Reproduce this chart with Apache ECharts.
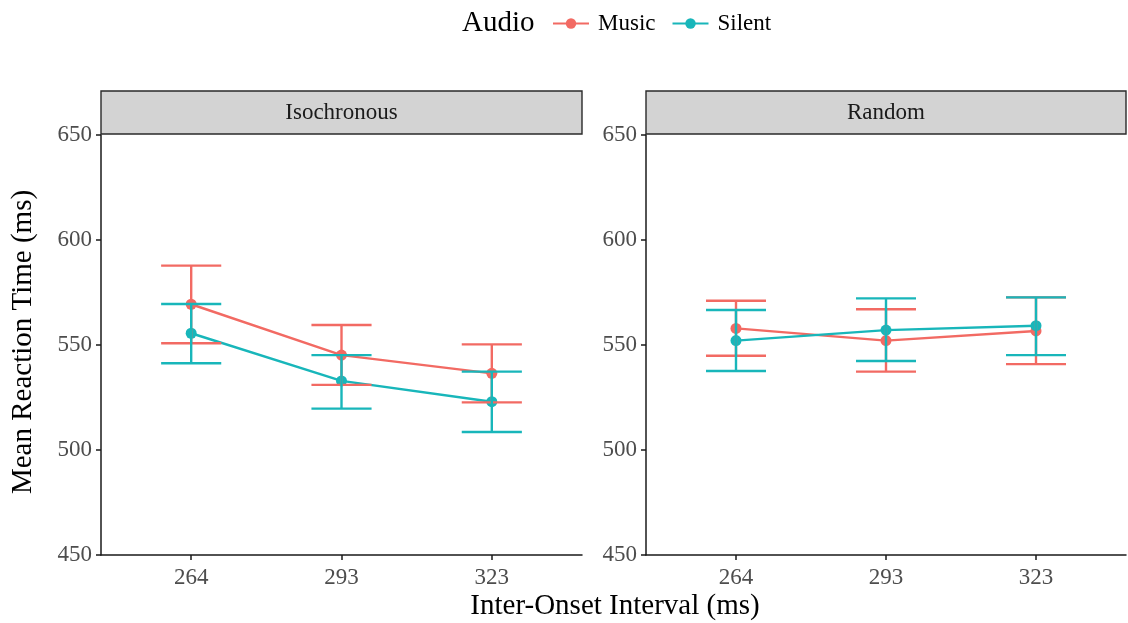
<!DOCTYPE html>
<html>
<head>
<meta charset="utf-8">
<title>Mean Reaction Time by Inter-Onset Interval</title>
<script src="https://cdn.jsdelivr.net/npm/echarts@6/dist/echarts.min.js"></script>
<style>
  html, body { margin: 0; padding: 0; background: #ffffff; }
  #chart { width: 1128px; height: 623px; }
</style>
</head>
<body>
<div id="chart"></div>
<script>
// Inter-onset intervals (ms) on the x axis
const iois = ['264', '293', '323'];
const panels = ['Isochronous', 'Random'];
const yTicks = [450, 500, 550, 600, 650];

// Isochronous condition: mean reaction time and error-bar limits
const isoMusicMean  = [569.4, 545.2, 536.5];
const isoMusicLow   = [550.8, 531.0, 522.7];
const isoMusicHigh  = [587.8, 559.5, 550.3];
const isoSilentMean = [555.6, 532.9, 523.0];
const isoSilentLow  = [541.3, 519.7, 508.6];
const isoSilentHigh = [569.5, 545.2, 537.3];

// Random condition
const rndMusicMean  = [557.9, 552.1, 556.7];
const rndMusicLow   = [544.9, 537.3, 540.9];
const rndMusicHigh  = [571.1, 567.0, 572.7];
const rndSilentMean = [552.1, 557.1, 559.2];
const rndSilentLow  = [537.6, 542.4, 545.2];
const rndSilentHigh = [566.7, 572.2, 572.7];

const MUSIC = '#F26A63';
const SILENT = '#18B6BA';
const FONT = 'Liberation Serif';
const AXIS = '#1a1a1a';

const chart = echarts.init(document.getElementById('chart'), null, { renderer: 'canvas' });

const panelData = [
  { music: [isoMusicMean, isoMusicLow, isoMusicHigh], silent: [isoSilentMean, isoSilentLow, isoSilentHigh] },
  { music: [rndMusicMean, rndMusicLow, rndMusicHigh], silent: [rndSilentMean, rndSilentLow, rndSilentHigh] }
];

const gridBoxes = [
  { left: 101, top: 135, width: 481, height: 420 },
  { left: 646, top: 135, width: 480, height: 420 }
];

const tickValues = iois.map((_, i) => i + 1);

const xAxes = gridBoxes.map((g, i) => ({
  type: 'value',
  gridIndex: i,
  min: 0.4,
  max: 3.6,
  axisLine: { show: true, lineStyle: { color: AXIS, width: 1.5 } },
  axisTick: { show: true, length: 5, customValues: tickValues, lineStyle: { color: AXIS, width: 1.5 } },
  axisLabel: {
    customValues: tickValues,
    formatter: v => iois[Math.round(v) - 1],
    fontFamily: FONT, fontSize: 23, color: '#4D4D4D', margin: 11
  },
  splitLine: { show: false }
}));

const yAxes = gridBoxes.map((g, i) => ({
  type: 'value',
  gridIndex: i,
  min: yTicks[0],
  max: yTicks[yTicks.length - 1],
  interval: 50,
  axisLine: { show: true, lineStyle: { color: AXIS, width: 1.5 } },
  axisTick: { show: true, length: 5, lineStyle: { color: AXIS, width: 1.5 } },
  axisLabel: { fontFamily: FONT, fontSize: 23, color: '#4D4D4D', margin: 9 },
  splitLine: { show: false }
}));

function lineSeries(name, color, mean, panel) {
  return {
    name: name,
    type: 'line',
    xAxisIndex: panel,
    yAxisIndex: panel,
    data: mean.map((v, i) => [i + 1, v]),
    symbol: 'circle',
    symbolSize: 11,
    lineStyle: { color: color, width: 2.4 },
    itemStyle: { color: color },
    z: 2,
    silent: true
  };
}

function errorSeries(name, color, low, high, panel) {
  return {
    name: name,
    type: 'custom',
    xAxisIndex: panel,
    yAxisIndex: panel,
    data: low.map((v, i) => [i + 1, v, high[i]]),
    z: 3,
    silent: true,
    renderItem: function (params, api) {
      const x = api.value(0);
      const lo = api.coord([x, api.value(1)]);
      const hi = api.coord([x, api.value(2)]);
      const capL = api.coord([x - 0.2, api.value(1)])[0];
      const capR = api.coord([x + 0.2, api.value(1)])[0];
      const style = { stroke: color, lineWidth: 2.4 };
      return {
        type: 'group',
        children: [
          { type: 'line', shape: { x1: lo[0], y1: lo[1], x2: hi[0], y2: hi[1] }, style: style },
          { type: 'line', shape: { x1: capL, y1: lo[1], x2: capR, y2: lo[1] }, style: style },
          { type: 'line', shape: { x1: capL, y1: hi[1], x2: capR, y2: hi[1] }, style: style }
        ]
      };
    }
  };
}

const series = [];
panelData.forEach((p, i) => {
  series.push(lineSeries('Music', MUSIC, p.music[0], i));
  series.push(lineSeries('Silent', SILENT, p.silent[0], i));
});
panelData.forEach((p, i) => {
  series.push(errorSeries('Music', MUSIC, p.music[1], p.music[2], i));
  series.push(errorSeries('Silent', SILENT, p.silent[1], p.silent[2], i));
});

// Facet strips above each panel
const stripGraphics = [];
gridBoxes.forEach((g, i) => {
  stripGraphics.push({
    type: 'rect',
    shape: { x: g.left, y: 91, width: g.width, height: 43 },
    style: { fill: '#D3D3D3', stroke: '#2a2a2a', lineWidth: 1.4 },
    silent: true
  });
  stripGraphics.push({
    type: 'text',
    x: g.left + g.width / 2,
    y: 113,
    style: {
      text: panels[i], font: '23px "' + FONT + '"', fill: '#1A1A1A',
      textAlign: 'center', textVerticalAlign: 'middle'
    },
    silent: true
  });
});

const option = {
  animation: false,
  backgroundColor: '#ffffff',
  grid: gridBoxes.map(g => Object.assign({ containLabel: false }, g)),
  xAxis: xAxes,
  yAxis: yAxes,
  legend: {
    data: ['Music', 'Silent'],
    left: 552,
    top: 12,
    padding: 0,
    itemWidth: 36,
    itemHeight: 13,
    itemGap: 16,
    selectedMode: false,
    textStyle: { fontFamily: FONT, fontSize: 23, color: '#000000', padding: [0, 0, 0, 4] }
  },
  graphic: stripGraphics.concat([
    {
      type: 'text', x: 462, y: 23,
      style: { text: 'Audio', font: '29px "' + FONT + '"', fill: '#000000', textAlign: 'left', textVerticalAlign: 'middle' },
      silent: true
    },
    {
      type: 'text', x: 615, y: 606,
      style: { text: 'Inter-Onset Interval (ms)', font: '29px "' + FONT + '"', fill: '#000000', textAlign: 'center', textVerticalAlign: 'middle' },
      silent: true
    },
    {
      type: 'text', x: 23, y: 342, rotation: Math.PI / 2,
      style: { text: 'Mean Reaction Time (ms)', font: '29px "' + FONT + '"', fill: '#000000', textAlign: 'center', textVerticalAlign: 'middle' },
      silent: true
    }
  ]),
  series: series
};

chart.setOption(option);
</script>
</body>
</html>
